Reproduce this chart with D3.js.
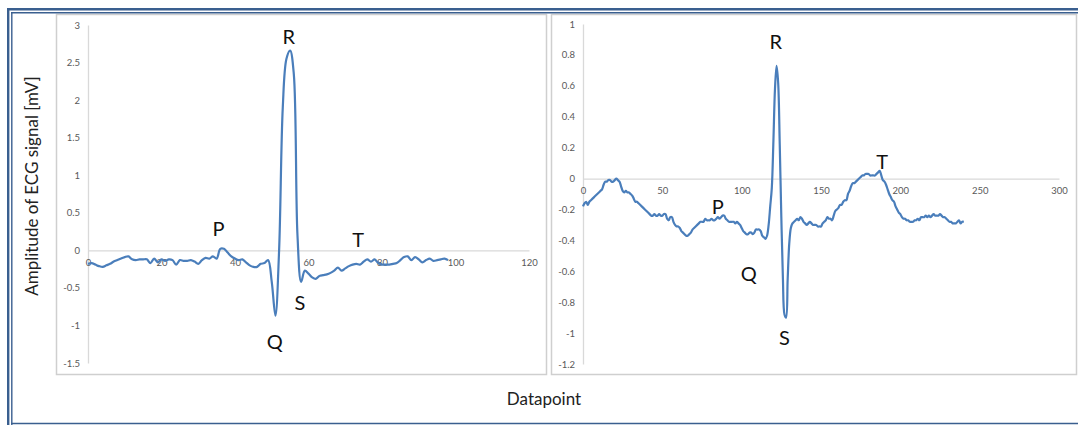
<!DOCTYPE html>
<html>
<head>
<meta charset="utf-8">
<script src="https://cdn.jsdelivr.net/npm/d3@7"></script>
<style>
  body { margin: 0; background: #fff; }
  svg { display: block; }
  text { font-family: Lato, "Open Sans", sans-serif; }
</style>
</head>
<body>
<div id="chart"></div>
<script>
'use strict';

// left beat, one value per datapoint (0..98)
var leftValues = [
  -0.18, -0.17, -0.19, -0.21, -0.22, -0.20, -0.18, -0.15, -0.13, -0.11,
  -0.09, -0.08, -0.12, -0.13, -0.12, -0.12, -0.12, -0.17, -0.11, -0.16,
  -0.12, -0.14, -0.12, -0.13, -0.19, -0.13, -0.14, -0.14, -0.13, -0.15,
  -0.18, -0.13, -0.10, -0.11, -0.08, -0.11, 0.02, 0.02, -0.03, -0.08,
  -0.11, -0.13, -0.12, -0.16, -0.20, -0.22, -0.22, -0.18, -0.17, -0.13,
  -0.42, -0.87, 0.00, 1.90, 2.55, 2.66, 2.35, 0.20, -0.42, -0.27,
  -0.31, -0.36, -0.38, -0.34, -0.33, -0.32, -0.30, -0.27, -0.23, -0.27,
  -0.24, -0.21, -0.19, -0.18, -0.19, -0.15, -0.12, -0.15, -0.12, -0.17,
  -0.19, -0.19, -0.19, -0.18, -0.17, -0.13, -0.09, -0.08, -0.13, -0.09,
  -0.12, -0.16, -0.13, -0.11, -0.14, -0.13, -0.12, -0.11, -0.13
];

// right beat, one value per datapoint (0..240)
var rightValues = [
  -0.18, -0.16, -0.15, -0.17, -0.15, -0.14, -0.13, -0.12, -0.11, -0.10,
  -0.09, -0.08, -0.07, -0.04, -0.02, -0.02, -0.01, -0.01, -0.02, -0.02,
  -0.01, 0.00, -0.01, -0.02, -0.05, -0.08, -0.09, -0.08, -0.09, -0.09,
  -0.10, -0.11, -0.13, -0.15, -0.15, -0.16, -0.17, -0.18, -0.19, -0.20,
  -0.21, -0.22, -0.23, -0.24, -0.24, -0.23, -0.24, -0.24, -0.23, -0.24,
  -0.24, -0.23, -0.23, -0.26, -0.27, -0.25, -0.25, -0.28, -0.30, -0.31,
  -0.31, -0.32, -0.34, -0.35, -0.36, -0.37, -0.37, -0.36, -0.35, -0.33,
  -0.32, -0.31, -0.30, -0.29, -0.28, -0.28, -0.28, -0.26, -0.27, -0.27,
  -0.27, -0.26, -0.27, -0.27, -0.26, -0.25, -0.26, -0.25, -0.24, -0.24,
  -0.26, -0.27, -0.28, -0.28, -0.28, -0.28, -0.29, -0.28, -0.29, -0.30,
  -0.32, -0.34, -0.35, -0.36, -0.36, -0.35, -0.35, -0.36, -0.35, -0.33,
  -0.33, -0.33, -0.34, -0.37, -0.38, -0.39, -0.37, -0.30, -0.18, -0.06,
  0.24, 0.58, 0.73, 0.62, 0.22, -0.25, -0.65, -0.88, -0.90, -0.65,
  -0.42, -0.32, -0.29, -0.28, -0.27, -0.26, -0.27, -0.25, -0.26, -0.28,
  -0.29, -0.30, -0.29, -0.28, -0.29, -0.30, -0.30, -0.30, -0.31, -0.31,
  -0.31, -0.29, -0.28, -0.27, -0.25, -0.26, -0.26, -0.27, -0.24, -0.21,
  -0.20, -0.19, -0.17, -0.17, -0.15, -0.14, -0.14, -0.10, -0.08, -0.05,
  -0.03, -0.03, -0.02, -0.01, 0.00, 0.01, 0.02, 0.02, 0.03, 0.03,
  0.03, 0.02, 0.02, 0.02, 0.02, 0.03, 0.04, 0.05, 0.02, -0.01,
  -0.02, -0.04, -0.07, -0.10, -0.12, -0.14, -0.15, -0.18, -0.20, -0.22,
  -0.23, -0.25, -0.26, -0.26, -0.27, -0.27, -0.28, -0.28, -0.28, -0.27,
  -0.27, -0.26, -0.27, -0.25, -0.25, -0.25, -0.24, -0.25, -0.24, -0.25,
  -0.24, -0.23, -0.24, -0.24, -0.24, -0.23, -0.24, -0.25, -0.25, -0.26,
  -0.27, -0.28, -0.28, -0.29, -0.29, -0.29, -0.28, -0.27, -0.29, -0.28,
  -0.28
];

// tick labels
var leftXTicks = [0, 20, 40, 60, 80, 100, 120];
var leftYTicks = [-1.5, -1, -0.5, 0, 0.5, 1, 1.5, 2, 2.5, 3];
var rightXTicks = [0, 50, 100, 150, 200, 250, 300];
var rightYTicks = [-1.2, -1, -0.8, -0.6, -0.4, -0.2, 0, 0.2, 0.4, 0.6, 0.8, 1];

// wave labels: datapoint and amplitude they sit next to
var waveNames = ['P', 'Q', 'R', 'S', 'T'];
var leftWaveX = [35.5, 50.8, 54.6, 57.7, 73.5];
var leftWaveY = [0.19, -1.32, 2.75, -0.8, 0.04];
var rightWaveX = [85, 104.5, 121.5, 127, 188.5];
var rightWaveY = [-0.23, -0.66, 0.84, -1.08, 0.06];

var W = 1078, H = 425;
var lineColor = '#4a7ebb';
var axisColor = '#d9d9d9';
var tickColor = '#595959';
var frameColor = '#3a5f8f';

var svg = d3.select('#chart').append('svg')
    .attr('width', W)
    .attr('height', H);

// the two chart panels
var panels = [
  {x0: 56, x1: 547, left: 88, right: 529, top: 25, bottom: 363,
   xDomain: [0, 120], yDomain: [-1.5, 3], xTicks: leftXTicks, yTicks: leftYTicks,
   values: leftValues, waveX: leftWaveX, waveY: leftWaveY},
  {x0: 551, x1: 1077, left: 583, right: 1059, top: 24, bottom: 364,
   xDomain: [0, 300], yDomain: [-1.2, 1], xTicks: rightXTicks, yTicks: rightYTicks,
   values: rightValues, waveX: rightWaveX, waveY: rightWaveY}
];

panels.forEach(function(p) {
  svg.append('rect')
      .attr('x', p.x0 + 0.5)
      .attr('y', 14.5)
      .attr('width', p.x1 - p.x0 - 1)
      .attr('height', 375 - 14 - 1)
      .attr('fill', '#fff')
      .attr('stroke', '#cfcfcf')
      .attr('stroke-width', 1.5);

  var x = d3.scaleLinear().domain(p.xDomain).range([p.left, p.right]);
  var y = d3.scaleLinear().domain(p.yDomain).range([p.bottom, p.top]);

  var g = svg.append('g');

  // y axis: line plus labels, no tick marks
  var yAxis = g.append('g')
      .attr('transform', 'translate(' + p.left + ',0)')
      .call(d3.axisLeft(y).tickValues(p.yTicks).tickSize(0).tickPadding(8)
        .tickFormat(function(d) { return String(d); }));
  yAxis.select('.domain').attr('stroke', axisColor).attr('stroke-width', 1.3);
  yAxis.selectAll('text')
      .attr('fill', tickColor)
      .style('font-size', '9.5px');

  // x axis sits at zero
  var xAxis = g.append('g')
      .attr('transform', 'translate(0,' + y(0) + ')')
      .call(d3.axisBottom(x).tickValues(p.xTicks).tickSize(0).tickPadding(9)
        .tickFormat(function(d) { return String(d); }));
  xAxis.select('.domain').attr('stroke', axisColor).attr('stroke-width', 1.3);
  xAxis.selectAll('text')
      .attr('fill', tickColor)
      .style('font-size', '9.5px');

  // signal
  var line = d3.line()
      .x(function(d, i) { return x(i); })
      .y(function(d) { return y(d); })
      .curve(d3.curveCatmullRom.alpha(0.5));

  g.append('path')
      .datum(p.values)
      .attr('d', line)
      .attr('fill', 'none')
      .attr('stroke', lineColor)
      .attr('stroke-width', 2.2)
      .attr('stroke-linejoin', 'round');

  // P Q R S T
  g.selectAll('.wave')
      .data(waveNames)
    .enter().append('text')
      .attr('class', 'wave')
      .attr('x', function(d, i) { return x(p.waveX[i]); })
      .attr('y', function(d, i) { return y(p.waveY[i]); })
      .attr('text-anchor', 'middle')
      .attr('fill', '#111')
      .style('font-size', '20px')
      .text(function(d) { return d; });
});

// shared axis titles
svg.append('text')
    .attr('transform', 'translate(38,186) rotate(-90)')
    .attr('text-anchor', 'middle')
    .attr('fill', '#222')
    .style('font-size', '17px')
    .text('Amplitude of ECG signal [mV]');

svg.append('text')
    .attr('x', 544)
    .attr('y', 405)
    .attr('text-anchor', 'middle')
    .attr('fill', '#222')
    .style('font-size', '17px')
    .text('Datapoint');

// blue double frame (top, left, bottom)
var frame = svg.append('g').attr('stroke', frameColor).attr('fill', 'none');
frame.append('line').attr('x1', 7).attr('x2', W).attr('y1', 9.2).attr('y2', 9.2).attr('stroke-width', 2.4);
frame.append('line').attr('x1', 11).attr('x2', W).attr('y1', 12.8).attr('y2', 12.8).attr('stroke-width', 1.4);
frame.append('line').attr('x1', 8.2).attr('x2', 8.2).attr('y1', 8).attr('y2', H).attr('stroke-width', 2.4);
frame.append('line').attr('x1', 11.8).attr('x2', 11.8).attr('y1', 12).attr('y2', H).attr('stroke-width', 1.4);
frame.append('line').attr('x1', 11).attr('x2', W).attr('y1', 423.5).attr('y2', 423.5).attr('stroke-width', 1.6);
</script>
</body>
</html>
